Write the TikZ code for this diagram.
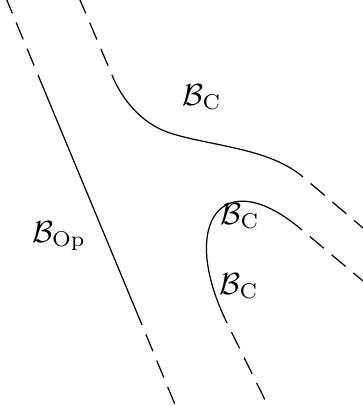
\documentclass[tikz,border=0pt]{standalone}
\usepackage{tikz}

\begin{document}
\begin{tikzpicture}[scale=0.46,
    bdry/.style={line width=0.4pt},
    tail/.style={line width=0.4pt, dash pattern=on 6pt off 3.3pt, dash phase=6pt},
    lbl/.style={inner sep=0pt}]

  \useasboundingbox (0,0) rectangle (9.075,10.15);

  % left boundary B_Op
  \coordinate (op0) at (0.17,10.15);
  \coordinate (op1) at (0.95,8.275);
  \coordinate (op2) at (3.55,2.025);
  \coordinate (op3) at (4.39,0);
  \draw[tail] (op1) -- (op0);
  \draw[bdry] (op1) -- (op2);
  \draw[tail] (op2) -- (op3);

  % upper boundary B_C
  \coordinate (up0) at (2.0,10.15);
  \coordinate (up1) at (2.8,8.275);
  \coordinate (up2) at (4.175,6.85);
  \coordinate (up3) at (7.575,5.725);
  \coordinate (up4) at (9.075,4.45);
  \draw[tail] (up1) -- (up0);
  \draw[bdry] (up1) .. controls (3.05,7.65) and (3.55,7.075) .. (up2)
                    .. controls (5.175,6.5) and (6.7,6.475) .. (up3);
  \draw[tail] (up3) -- (up4);

  % inner boundary B_C
  \coordinate (in0) at (9.075,3.125);
  \coordinate (in1) at (7.55,4.4);
  \coordinate (in2) at (5.675,2.075);
  \coordinate (in3) at (6.7,0);
  \draw[tail] (in1) -- (in0);
  \draw[bdry] (in1) .. controls (5.55,6.1) and (4.45,4.575) .. (in2);
  \draw[tail] (in2) -- (in3);

  % labels
  \node[lbl] (bcup)  at (5.05,7.725) {$\mathcal{B}_{\mathrm{C}}$};
  \node[lbl] (bcmid) at (6.0,4.75)   {$\mathcal{B}_{\mathrm{C}}$};
  \node[lbl] (bclow) at (5.975,3.0)  {$\mathcal{B}_{\mathrm{C}}$};
  \node[lbl] (bop)   at (1.475,4.25) {$\mathcal{B}_{\mathrm{Op}}$};
\end{tikzpicture}
\end{document}
